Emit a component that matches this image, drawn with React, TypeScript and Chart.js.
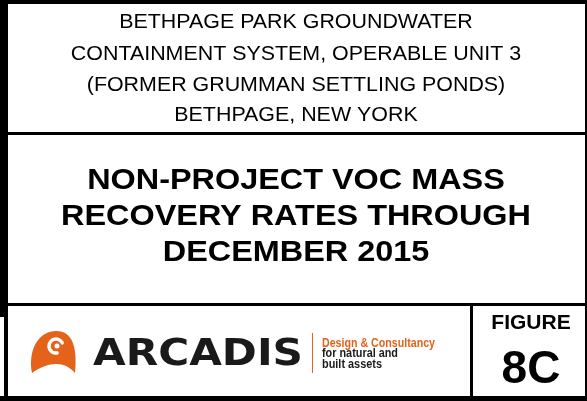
import React, { useEffect, useRef } from "react";
import { Chart, registerables } from "chart.js";

Chart.register(...registerables);

// ---- content ----
const headerLines = [
  "BETHPAGE PARK GROUNDWATER",
  "CONTAINMENT SYSTEM, OPERABLE UNIT 3",
  "(FORMER GRUMMAN SETTLING PONDS)",
  "BETHPAGE, NEW YORK",
];
const titleLines = ["NON-PROJECT VOC MASS", "RECOVERY RATES THROUGH", "DECEMBER 2015"];
const logoWord = "ARCADIS";
const taglineLines = ["Design & Consultancy", "for natural and", "built assets"];
const figureLabel = "FIGURE";
const figureNumber = "8C";

const ORANGE = "#E5621A";
const SANS = '"Liberation Sans", Arial, sans-serif';

function drawScaled(
  ctx: CanvasRenderingContext2D,
  text: string,
  x: number,
  baseline: number,
  font: string,
  sx: number,
  align: CanvasTextAlign,
  color: string
) {
  ctx.save();
  ctx.font = font;
  ctx.fillStyle = color;
  ctx.textAlign = align;
  ctx.textBaseline = "alphabetic";
  ctx.translate(x, baseline);
  ctx.scale(sx, 1);
  ctx.fillText(text, 0, 0);
  ctx.restore();
}

function drawFit(
  ctx: CanvasRenderingContext2D,
  text: string,
  x: number,
  baseline: number,
  font: string,
  width: number,
  align: CanvasTextAlign,
  color: string
) {
  ctx.save();
  ctx.font = font;
  const w = ctx.measureText(text).width || 1;
  ctx.restore();
  drawScaled(ctx, text, x, baseline, font, width / w, align, color);
}

const titleBlockPlugin = {
  id: "titleBlock",
  beforeDraw(chart: any) {
    const ctx: CanvasRenderingContext2D = chart.ctx;
    ctx.save();
    ctx.fillStyle = "#ffffff";
    ctx.fillRect(0, 0, chart.width, chart.height);
    ctx.restore();
  },
  afterDraw(chart: any) {
    const ctx: CanvasRenderingContext2D = chart.ctx;
    ctx.save();
    // frame
    ctx.fillStyle = "#000";
    ctx.fillRect(0, 0, 587, 4);
    ctx.fillRect(0, 0, 8, 317);
    ctx.fillRect(4, 317, 4, 84);
    ctx.fillRect(585, 0, 2, 401);
    ctx.fillRect(8, 132, 577, 3);
    ctx.fillRect(8, 303, 577, 3);
    ctx.fillRect(0, 396, 587, 5);
    ctx.fillRect(470, 306, 3, 90);

    // header
    const hb = [28, 60, 91, 121];
    headerLines.forEach((t, i) =>
      drawScaled(ctx, t, 296, hb[i], `20px ${SANS}`, 1.07, "center", "#000")
    );
    // title
    const tb = [189, 225, 261];
    titleLines.forEach((t, i) =>
      drawScaled(ctx, t, 296, tb[i], `bold 30px ${SANS}`, 1.08, "center", "#000")
    );

    // logo icon
    ctx.fillStyle = ORANGE;
    ctx.beginPath();
    ctx.moveTo(32, 373);
    ctx.bezierCurveTo(28, 352, 37, 332, 55, 331);
    ctx.bezierCurveTo(71, 330, 78, 345, 75, 373);
    ctx.bezierCurveTo(66, 362, 50, 360, 32, 373);
    ctx.closePath();
    ctx.fill();
    ctx.strokeStyle = "#fff";
    ctx.lineWidth = 3.5;
    ctx.lineCap = "round";
    ctx.beginPath();
    ctx.arc(56, 346, 7, -0.15 * Math.PI, 0.45 * Math.PI, true);
    ctx.stroke();
    ctx.beginPath();
    ctx.arc(57, 346, 2.5, 0, 2 * Math.PI);
    ctx.fillStyle = "#fff";
    ctx.fill();

    // ARCADIS word
    drawFit(ctx, logoWord, 93, 365, 'bold 37px "DejaVu Sans", sans-serif', 210, "left", "#1a1a1a");

    // divider and tagline
    ctx.fillStyle = ORANGE;
    ctx.fillRect(312, 333, 1, 40);
    const tgW = [113, 76, 60];
    const tgB = [347, 357, 368];
    taglineLines.forEach((t, i) =>
      drawFit(
        ctx,
        t,
        322,
        tgB[i],
        `bold 12px ${SANS}`,
        tgW[i],
        "left",
        i === 0 ? ORANGE : "#1a1a1a"
      )
    );

    // figure box
    drawScaled(ctx, figureLabel, 531, 329, `bold 21px ${SANS}`, 1, "center", "#000");
    drawScaled(ctx, figureNumber, 531, 383, `bold 46px ${SANS}`, 1, "center", "#000");
    ctx.restore();
  },
};

export default function App() {
  const ref = useRef<HTMLCanvasElement>(null);
  useEffect(() => {
    document.body.style.margin = "0";
    if (!ref.current) return;
    const chart = new Chart(ref.current, {
      type: "scatter",
      data: { datasets: [] },
      options: {
        responsive: false,
        animation: false,
        events: [],
        layout: { padding: 0 },
        plugins: { legend: { display: false }, tooltip: { enabled: false }, title: { display: false } },
        scales: { x: { display: false }, y: { display: false } },
      },
      plugins: [titleBlockPlugin],
    });
    return () => chart.destroy();
  }, []);
  return (
    <div style={{ width: 587, height: 401 }}>
      <canvas ref={ref} width={587} height={401} style={{ display: "block" }} />
    </div>
  );
}
